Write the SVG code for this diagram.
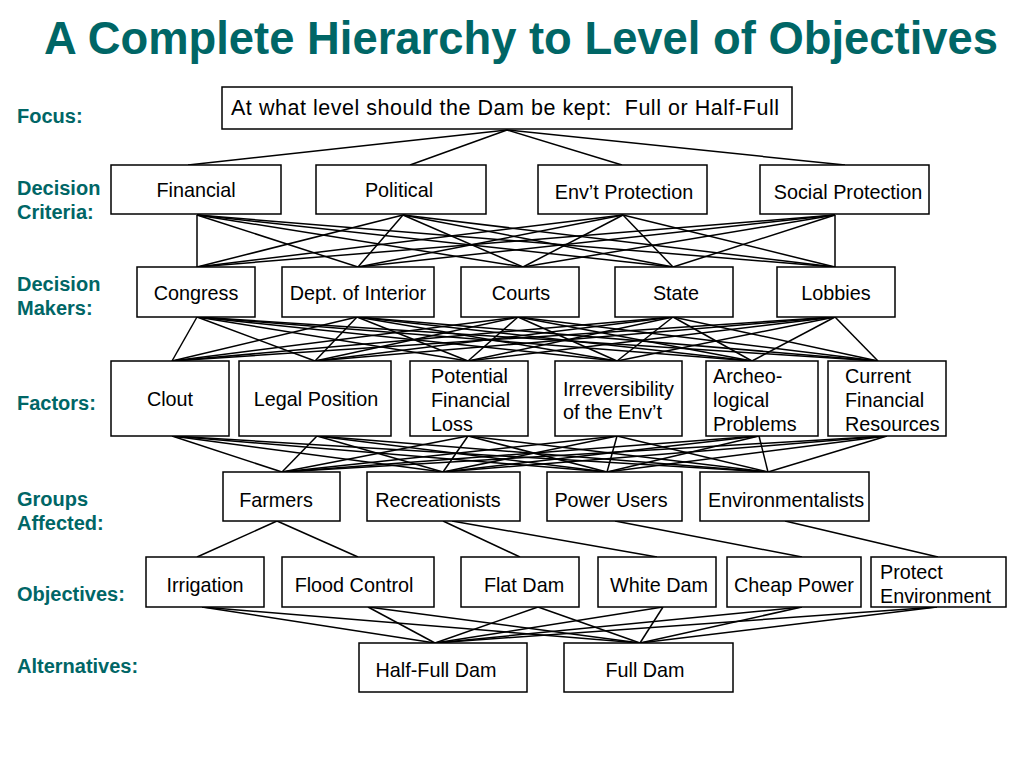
<svg xmlns="http://www.w3.org/2000/svg" width="1024" height="768" viewBox="0 0 1024 768">
<style>
.t{font-family:"Liberation Sans",Arial,sans-serif;font-weight:bold;fill:#006666}
.lab{font-family:"Liberation Sans",Arial,sans-serif;font-weight:bold;font-size:20px;fill:#006666}
.box{fill:#fff;stroke:#000;stroke-width:1.5}
.txt{font-family:"Liberation Sans",Arial,sans-serif;font-size:19.8px;fill:#000}
.c{text-anchor:middle}
#connectors line{stroke:#000;stroke-width:1.5}
</style>
<rect width="1024" height="768" fill="#fff"/>
<text class="t" x="44" y="54" font-size="45.5" textLength="954" lengthAdjust="spacingAndGlyphs">A Complete Hierarchy to Level of Objectives</text>
<g id="labels">
<text class="lab" x="17" y="123">Focus:</text>
<text class="lab" x="17" y="195">Decision</text><text class="lab" x="17" y="219">Criteria:</text>
<text class="lab" x="17" y="291">Decision</text><text class="lab" x="17" y="315">Makers:</text>
<text class="lab" x="17" y="410">Factors:</text>
<text class="lab" x="17" y="506">Groups</text><text class="lab" x="17" y="530">Affected:</text>
<text class="lab" x="17" y="601">Objectives:</text>
<text class="lab" x="17" y="673">Alternatives:</text>
</g>
<g id="connectors">
<line x1="507" y1="130" x2="188" y2="165"/><line x1="507" y1="130" x2="410" y2="165"/>
<line x1="507" y1="130" x2="622" y2="165"/><line x1="507" y1="130" x2="845" y2="165"/>
<line x1="197" y1="215" x2="197" y2="267"/><line x1="197" y1="215" x2="358" y2="267"/><line x1="197" y1="215" x2="523" y2="267"/><line x1="197" y1="215" x2="673" y2="267"/><line x1="197" y1="215" x2="835" y2="267"/>
<line x1="403" y1="215" x2="197" y2="267"/><line x1="403" y1="215" x2="358" y2="267"/><line x1="403" y1="215" x2="523" y2="267"/><line x1="403" y1="215" x2="673" y2="267"/><line x1="403" y1="215" x2="835" y2="267"/>
<line x1="623" y1="215" x2="197" y2="267"/><line x1="623" y1="215" x2="358" y2="267"/><line x1="623" y1="215" x2="523" y2="267"/><line x1="623" y1="215" x2="673" y2="267"/><line x1="623" y1="215" x2="835" y2="267"/>
<line x1="835" y1="215" x2="197" y2="267"/><line x1="835" y1="215" x2="358" y2="267"/><line x1="835" y1="215" x2="523" y2="267"/><line x1="835" y1="215" x2="673" y2="267"/><line x1="835" y1="215" x2="835" y2="267"/>
<line x1="197" y1="317" x2="172" y2="361"/><line x1="197" y1="317" x2="315" y2="361"/><line x1="197" y1="317" x2="468" y2="361"/><line x1="197" y1="317" x2="617" y2="361"/><line x1="197" y1="317" x2="752" y2="361"/><line x1="197" y1="317" x2="878" y2="361"/>
<line x1="357" y1="317" x2="172" y2="361"/><line x1="357" y1="317" x2="315" y2="361"/><line x1="357" y1="317" x2="468" y2="361"/><line x1="357" y1="317" x2="617" y2="361"/><line x1="357" y1="317" x2="752" y2="361"/><line x1="357" y1="317" x2="878" y2="361"/>
<line x1="518" y1="317" x2="172" y2="361"/><line x1="518" y1="317" x2="315" y2="361"/><line x1="518" y1="317" x2="468" y2="361"/><line x1="518" y1="317" x2="617" y2="361"/><line x1="518" y1="317" x2="752" y2="361"/><line x1="518" y1="317" x2="878" y2="361"/>
<line x1="673" y1="317" x2="172" y2="361"/><line x1="673" y1="317" x2="315" y2="361"/><line x1="673" y1="317" x2="468" y2="361"/><line x1="673" y1="317" x2="617" y2="361"/><line x1="673" y1="317" x2="752" y2="361"/><line x1="673" y1="317" x2="878" y2="361"/>
<line x1="835" y1="317" x2="172" y2="361"/><line x1="835" y1="317" x2="315" y2="361"/><line x1="835" y1="317" x2="468" y2="361"/><line x1="835" y1="317" x2="617" y2="361"/><line x1="835" y1="317" x2="752" y2="361"/><line x1="835" y1="317" x2="878" y2="361"/>
<line x1="172" y1="436" x2="282" y2="472"/><line x1="172" y1="436" x2="443" y2="472"/><line x1="172" y1="436" x2="607" y2="472"/><line x1="172" y1="436" x2="768" y2="472"/>
<line x1="317" y1="436" x2="282" y2="472"/><line x1="317" y1="436" x2="443" y2="472"/><line x1="317" y1="436" x2="607" y2="472"/><line x1="317" y1="436" x2="768" y2="472"/>
<line x1="468" y1="436" x2="282" y2="472"/><line x1="468" y1="436" x2="443" y2="472"/><line x1="468" y1="436" x2="607" y2="472"/><line x1="468" y1="436" x2="768" y2="472"/>
<line x1="617" y1="436" x2="282" y2="472"/><line x1="617" y1="436" x2="443" y2="472"/><line x1="617" y1="436" x2="607" y2="472"/><line x1="617" y1="436" x2="768" y2="472"/>
<line x1="759" y1="436" x2="282" y2="472"/><line x1="759" y1="436" x2="443" y2="472"/><line x1="759" y1="436" x2="607" y2="472"/><line x1="759" y1="436" x2="768" y2="472"/>
<line x1="887" y1="436" x2="282" y2="472"/><line x1="887" y1="436" x2="443" y2="472"/><line x1="887" y1="436" x2="607" y2="472"/><line x1="887" y1="436" x2="768" y2="472"/>
<line x1="277" y1="521" x2="197" y2="557"/><line x1="277" y1="521" x2="358" y2="557"/>
<line x1="443" y1="521" x2="520" y2="557"/><line x1="452" y1="521" x2="657" y2="557"/>
<line x1="615" y1="521" x2="802" y2="557"/><line x1="785" y1="521" x2="938" y2="557"/>
<line x1="202" y1="607" x2="435" y2="643"/><line x1="202" y1="607" x2="640" y2="643"/>
<line x1="368" y1="607" x2="435" y2="643"/><line x1="368" y1="607" x2="640" y2="643"/>
<line x1="538" y1="607" x2="435" y2="643"/><line x1="538" y1="607" x2="640" y2="643"/>
<line x1="663" y1="607" x2="435" y2="643"/><line x1="663" y1="607" x2="640" y2="643"/>
<line x1="802" y1="607" x2="435" y2="643"/><line x1="802" y1="607" x2="640" y2="643"/>
<line x1="937" y1="607" x2="435" y2="643"/><line x1="937" y1="607" x2="640" y2="643"/>
</g>
<g id="focus"><rect class="box" x="222" y="87" width="570" height="42"/><text class="txt" x="231" y="115" style="font-size:21.5px" textLength="548" lengthAdjust="spacing">At what level should the Dam be kept:&#160; Full or Half-Full</text></g>
<g id="financial"><rect class="box" x="111" y="165" width="170" height="49"/><text class="txt c" x="196" y="197">Financial</text></g>
<g id="political"><rect class="box" x="316" y="165" width="170" height="49"/><text class="txt c" x="399" y="197">Political</text></g>
<g id="envt-protection"><rect class="box" x="538" y="165" width="169" height="49"/><text class="txt c" x="624" y="199">Env’t Protection</text></g>
<g id="social-protection"><rect class="box" x="760" y="165" width="169" height="49"/><text class="txt c" x="848" y="199">Social Protection</text></g>
<g id="congress"><rect class="box" x="137" y="267" width="118" height="50"/><text class="txt c" x="196" y="300">Congress</text></g>
<g id="interior"><rect class="box" x="282" y="267" width="152" height="50"/><text class="txt c" x="358" y="300">Dept. of Interior</text></g>
<g id="courts"><rect class="box" x="461" y="267" width="118" height="50"/><text class="txt c" x="521" y="300">Courts</text></g>
<g id="state"><rect class="box" x="615" y="267" width="118" height="50"/><text class="txt c" x="676" y="300">State</text></g>
<g id="lobbies"><rect class="box" x="777" y="267" width="118" height="50"/><text class="txt c" x="836" y="300">Lobbies</text></g>
<g id="clout"><rect class="box" x="111" y="361" width="118" height="75"/><text class="txt c" x="170" y="406">Clout</text></g>
<g id="legal"><rect class="box" x="239" y="361" width="152" height="75"/><text class="txt c" x="316" y="406">Legal Position</text></g>
<g id="potential"><rect class="box" x="410" y="361" width="118" height="75"/><text class="txt" x="431" y="383">Potential</text><text class="txt" x="431" y="407">Financial</text><text class="txt" x="431" y="431">Loss</text></g>
<g id="irreversibility"><rect class="box" x="555" y="361" width="127" height="75"/><text class="txt" x="563" y="396">Irreversibility</text><text class="txt" x="563" y="419">of the Env’t</text></g>
<g id="archeo"><rect class="box" x="706" y="361" width="112" height="75"/><text class="txt" x="713" y="383">Archeo-</text><text class="txt" x="713" y="407">logical</text><text class="txt" x="713" y="431">Problems</text></g>
<g id="current"><rect class="box" x="828" y="361" width="118" height="75"/><text class="txt" x="845" y="383">Current</text><text class="txt" x="845" y="407">Financial</text><text class="txt" x="845" y="431">Resources</text></g>
<g id="farmers"><rect class="box" x="223" y="472" width="117" height="49"/><text class="txt c" x="276" y="507">Farmers</text></g>
<g id="recreationists"><rect class="box" x="367" y="472" width="153" height="49"/><text class="txt c" x="438" y="507">Recreationists</text></g>
<g id="power-users"><rect class="box" x="547" y="472" width="135" height="49"/><text class="txt c" x="611" y="507">Power Users</text></g>
<g id="environmentalists"><rect class="box" x="700" y="472" width="169" height="49"/><text class="txt c" x="786" y="507">Environmentalists</text></g>
<g id="irrigation"><rect class="box" x="146" y="557" width="118" height="50"/><text class="txt c" x="205" y="592">Irrigation</text></g>
<g id="flood-control"><rect class="box" x="282" y="557" width="152" height="50"/><text class="txt c" x="354" y="592">Flood Control</text></g>
<g id="flat-dam"><rect class="box" x="461" y="557" width="118" height="50"/><text class="txt c" x="524" y="592">Flat Dam</text></g>
<g id="white-dam"><rect class="box" x="598" y="557" width="118" height="50"/><text class="txt c" x="659" y="592">White Dam</text></g>
<g id="cheap-power"><rect class="box" x="727" y="557" width="134" height="50"/><text class="txt c" x="794" y="592">Cheap Power</text></g>
<g id="protect-environment"><rect class="box" x="871" y="557" width="135" height="50"/><text class="txt" x="880" y="579">Protect</text><text class="txt" x="880" y="603">Environment</text></g>
<g id="half-full-dam"><rect class="box" x="359" y="643" width="168" height="49"/><text class="txt c" x="436" y="677">Half-Full Dam</text></g>
<g id="full-dam"><rect class="box" x="564" y="643" width="169" height="49"/><text class="txt c" x="645" y="677">Full Dam</text></g>
</svg>
